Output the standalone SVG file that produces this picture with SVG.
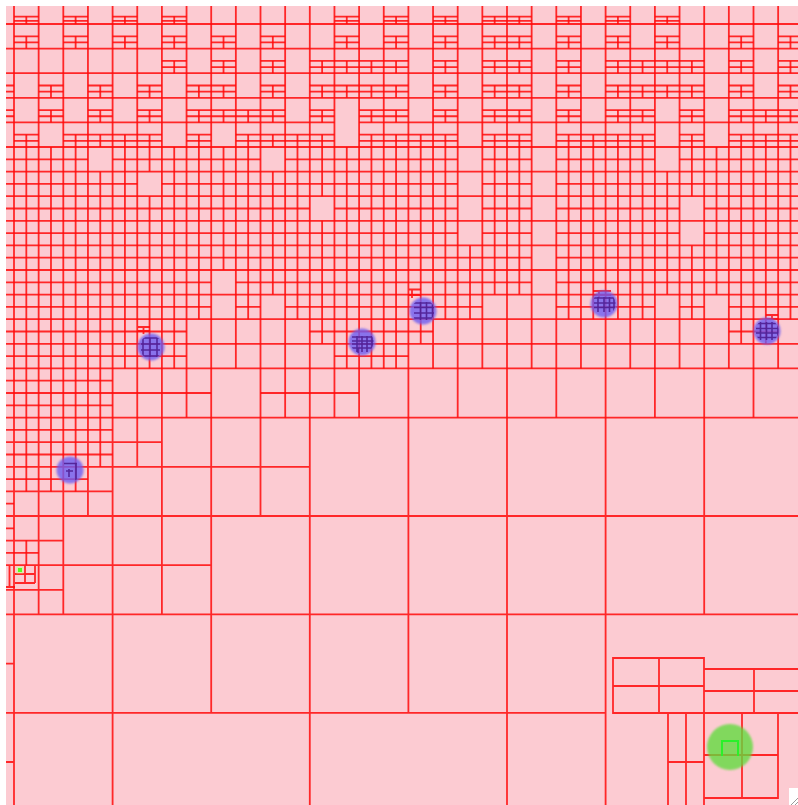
<svg xmlns="http://www.w3.org/2000/svg" width="798" height="805" viewBox="0 0 798 805">
<style>
.bg{fill:#fccbd2}
.ln{fill:none;stroke:#ff0a0a;stroke-opacity:.85;stroke-width:1.8;vector-effect:non-scaling-stroke}
.px{fill:none;stroke:#ff0a0a;stroke-opacity:.85;stroke-width:1.8}
.blue{fill:#6b5cf2;opacity:.8}
.dk{fill:none;stroke:#4a1a8e;stroke-width:1.6;stroke-opacity:.85}
</style>
<defs>
<clipPath id="view"><rect x="6" y="6" width="792" height="799"/></clipPath>
<clipPath id="dots">
<circle cx="151" cy="347" r="11.5"/><circle cx="362" cy="342" r="11.5"/><circle cx="423" cy="311" r="11.5"/>
<circle cx="604" cy="304" r="11.5"/><circle cx="767" cy="331" r="11.5"/><circle cx="70" cy="470" r="11.5"/>
</clipPath>
<filter id="soft" x="-30%" y="-30%" width="160%" height="160%"><feGaussianBlur stdDeviation="1.3"/></filter>
</defs>
<rect class="bg" x="6" y="6" width="792" height="799"/>
<g clip-path="url(#view)">
<g id="quadtree-cells" transform="translate(14 24) scale(24.65 24.6)">
<path class="ln" d="M-1 0H32M-1 1H32M-1 2H32M-1 3H32M-1 4H13M14 4H32M-1 5H32M-1 6H32M-1 7H32M-1 8H32M-1 9H32M-1 10H32M-1 11H32M-1 12H32M-1 13H32M-1 14H32M-1 15H8M10 15H14M-1 16H32"/>
<path class="ln" d="M0 -1V16M1 -1V16M2 -1V16M3 -1V16M4 -1V16M5 -1V16M6 -1V16M7 -1V16M8 -1V16M9 -1V14M10 -1V16M11 -1V16M12 -1V16M13 -1V16M14 -1V16M15 -1V14M16 -1V16M17 -1V14M18 -1V16M19 -1V14M20 -1V16M21 -1V14M22 -1V16M23 -1V14M24 -1V16M25 -1V14M26 -1V16M27 -1V14M28 -1V16M29 -1V14M30 -1V16M31 -1V14"/>
<path class="ln" d="M0 16V33M1 16V24M2 16V24M3 16V20M4 16V33M5 16V18M6 16V24M8 16V28M10 16V20M12 16V33M16 16V28M20 16V33M24 16V33M28 16V24M-1 17H6M-1 18H12M-1 19H4M-1 20H32M-1 21H2M-1 22H8M-1 23H2M-1 24H32M-1 28H24M-1 26H0M-1 30H0"/>
<path class="ln" d="M0 -.3H1M2 -.3H3M4 -.3H5M6 -.3H7M13 -.3H14M15 -.3H16M17 -.3H18M19 -.3H21M22 -.3H23M24 -.3H25M26 -.3H27M0 -.13H1M2 -.13H3M4 -.13H5M6 -.13H7M13 -.13H14M15 -.13H16M17 -.13H18M19 -.13H21M22 -.13H23M24 -.13H25M26 -.13H27M0 .5H1M2 .5H3M4 .5H5M6 .5H7M8 .5H9M10 .5H11M13 .5H14M15 .5H16M17 .5H18M19 .5H21M22 .5H23M24 .5H25M26 .5H27M29 .5H30M31 .5H32M0 .75H1M2 .75H3M4 .75H5M6 .75H7M8 .75H9M10 .75H11M13 .75H14M15 .75H16M17 .75H18M19 .75H21M22 .75H23M24 .75H25M26 .75H27M29 .75H30M31 .75H32M6 1.5H7M8 1.5H9M10 1.5H11M12 1.5H16M17 1.5H18M19 1.5H21M22 1.5H23M24 1.5H28M29 1.5H30M31 1.5H32M6 1.75H7M8 1.75H9M10 1.75H11M12 1.75H16M17 1.75H18M19 1.75H21M22 1.75H23M24 1.75H28M29 1.75H30M31 1.75H32M-1 2.5H0M1 2.5H2M3 2.5H4M5 2.5H6M7 2.5H9M10 2.5H11M12 2.5H16M17 2.5H18M19 2.5H21M22 2.5H23M24 2.5H28M29 2.5H30M31 2.5H32M-1 2.75H0M1 2.75H2M3 2.75H4M5 2.75H6M7 2.75H9M10 2.75H11M12 2.75H16M17 2.75H18M19 2.75H21M22 2.75H23M24 2.75H28M29 2.75H30M31 2.75H32M-1 3.5H0M1 3.5H2M3 3.5H4M5 3.5H6M7 3.5H11M12 3.5H13M14 3.5H16M17 3.5H18M19 3.5H21M22 3.5H23M24 3.5H26M27 3.5H28M29 3.5H32M-1 3.75H0M1 3.75H2M3 3.75H4M5 3.75H6M7 3.75H11M12 3.75H13M14 3.75H16M17 3.75H18M19 3.75H21M22 3.75H23M24 3.75H26M27 3.75H28M29 3.75H32M0 4.5H1M2 4.5H6M7 4.5H8M9 4.5H13M14 4.5H18M19 4.5H21M22 4.5H26M27 4.5H28M29 4.5H32M0 4.75H1M2 4.75H6M7 4.75H8M9 4.75H13M14 4.75H18M19 4.75H21M22 4.75H26M27 4.75H28M29 4.75H32"/>
<path class="ln" d="M.5 -.3V0M2.5 -.3V0M4.5 -.3V0M6.5 -.3V0M13.5 -.3V0M15.5 -.3V0M17.5 -.3V0M19.5 -.3V0M20.5 -.3V0M22.5 -.3V0M24.5 -.3V0M26.5 -.3V0M.5 .5V1M2.5 .5V1M4.5 .5V1M6.5 .5V1M8.5 .5V1M10.5 .5V1M13.5 .5V1M15.5 .5V1M17.5 .5V1M19.5 .5V1M20.5 .5V1M22.5 .5V1M24.5 .5V1M26.5 .5V1M29.5 .5V1M31.5 .5V1M6.5 1.5V2M8.5 1.5V2M10.5 1.5V2M12.5 1.5V2M13.5 1.5V2M14.5 1.5V2M15.5 1.5V2M17.5 1.5V2M19.5 1.5V2M20.5 1.5V2M22.5 1.5V2M24.5 1.5V2M25.5 1.5V2M26.5 1.5V2M27.5 1.5V2M29.5 1.5V2M31.5 1.5V2M-.5 2.5V3M1.5 2.5V3M3.5 2.5V3M5.5 2.5V3M7.5 2.5V3M8.5 2.5V3M10.5 2.5V3M12.5 2.5V3M13.5 2.5V3M14.5 2.5V3M15.5 2.5V3M17.5 2.5V3M19.5 2.5V3M20.5 2.5V3M22.5 2.5V3M24.5 2.5V3M25.5 2.5V3M26.5 2.5V3M27.5 2.5V3M29.5 2.5V3M31.5 2.5V3M-.5 3.5V4M1.5 3.5V4M3.5 3.5V4M5.5 3.5V4M7.5 3.5V4M8.5 3.5V4M9.5 3.5V4M10.5 3.5V4M12.5 3.5V4M14.5 3.5V4M15.5 3.5V4M17.5 3.5V4M19.5 3.5V4M20.5 3.5V4M22.5 3.5V4M24.5 3.5V4M25.5 3.5V4M27.5 3.5V4M29.5 3.5V4M30.5 3.5V4M31.5 3.5V4M.5 4.5V5M2.5 4.5V5M3.5 4.5V5M4.5 4.5V5M5.5 4.5V5M7.5 4.5V5M9.5 4.5V5M10.5 4.5V5M11.5 4.5V5M12.5 4.5V5M14.5 4.5V5M15.5 4.5V5M16.5 4.5V5M17.5 4.5V5M19.5 4.5V5M20.5 4.5V5M22.5 4.5V5M23.5 4.5V5M24.5 4.5V5M25.5 4.5V5M27.5 4.5V5M29.5 4.5V5M30.5 4.5V5M31.5 4.5V5"/>
<path class="ln" d="M-1 5.5H3M4 5.5H10M11 5.5H18M19 5.5H21M22 5.5H26M27 5.5H32M-1 6.5H5M6 6.5H18M19 6.5H21M22 6.5H32M-1 7.5H12M13 7.5H18M19 7.5H21M22 7.5H27M28 7.5H32M-1 8.5H18M19 8.5H21M22 8.5H27M28 8.5H32M-1 9.5H21M22 9.5H32M-1 10.5H8M9 10.5H21M22 10.5H32M-1 11.5H8M9 11.5H10M11 11.5H19M22 11.5H26M27 11.5H28M29 11.5H32M-1 12.5H7M12 12.5H17M29 12.5H31M-1 13.5H7M13 13.5H16M-1 14.5H4M-1 15.5H4M-1 16.5H4M-1 17.5H4M-1 18.5H3M-1 19.5H0M-1 20.5H0M-1 21.5H1"/>
<path class="ln" d="M-.5 5V22M.5 5V19M.5 21V22M1.5 5V19M2.5 5V19M3.5 6V18M4.5 5V14M5.5 5V6M5.5 7V14M6.5 5V14M7.5 5V12M8.5 5V10M9.5 5V12M10.5 6V11M11.5 5V12M12.5 5V7M12.5 8V13M13.5 5V14M14.5 5V14M15.5 5V14M16.5 5V13M17.5 5V12M18.5 9V12M19.5 5V11M20.5 5V11M22.5 5V12M23.5 5V12M24.5 5V12M25.5 5V12M26.5 6V11M27.5 5V7M27.5 9V12M28.5 5V11M29.5 5V13M30.5 5V13M31.5 5V12"/>
</g>
<g id="fine-cells">
<path class="px" d="M25 566V583M35 566V583M15 574H35M15 583H35M9.5 566V587M6 587H15"/>
<path class="px" d="M138 327H150M138 331H150M143.5 327V334M409 289.5H421M409 295H421M412 289.5V298M593 291H611M593 295H611M599 291V298M766 315H778M766 319H778M772 315V320"/>
</g>
<g id="region-lower-right">
<path class="px" d="M613 658H704V713H613ZM659 658V713M613 686H704M704 669H800M704 691H800M754 669V713M613 713H800M668 713V805M686 713V805M668 762H704M704 713V805M778 713V798H704M742 713V798M704 755H778"/>
</g>
<g id="query-points">
<g filter="url(#soft)">
<circle class="blue" cx="151" cy="347" r="13.5"/>
<circle class="blue" cx="362" cy="342" r="13.5"/>
<circle class="blue" cx="423" cy="311" r="13.5"/>
<circle class="blue" cx="604" cy="304" r="13.5"/>
<circle class="blue" cx="767" cy="331" r="13.5"/>
<circle class="blue" cx="70" cy="470" r="13.5"/>
</g>
<path class="dk" clip-path="url(#dots)" d="M143 338V357M150 338V357M157 338V357M141 338H160M141 344H160M141 350H160M141 356H160M357 336V352M362 336V352M367 336V352M372 336V352M352 337H374M352 341H374M352 344H374M352 348H374M358 348V354M420.5 302V320M426.5 302V320M432.5 302V320M414 303H434M414 307.5H434M414 313H434M414 318H434M598 297V312M604 297V312M609.5 297V312M614 297V312M594 298H616M594 303H616M594 307.5H616M760.5 322V340M766.5 322V340M772 322V340M778 322V340M756 323.5H780M756 328.5H780M756 333H780M756 337.5H780M64 463.5H77M76 463V480M66 471H73M69 469V477"/>
</g>
<g id="target-point">
<circle cx="730" cy="747" r="23" fill="#5fdc3c" opacity=".78" filter="url(#soft)"/>
<path d="M722 756V741H738V756" fill="none" stroke="#2af02a" stroke-width="2"/>
<rect x="16.5" y="566.5" width="7" height="7" fill="#c8ff99" opacity=".6"/>
<rect x="18" y="568" width="4" height="4" fill="#55ff22"/>
</g>
</g>
<g id="corner">
<rect x="789" y="788" width="9" height="17" fill="#ffffff"/>
<path d="M791 805L798 798M795 805L798 802" stroke="#9a9a9a" stroke-width="1"/>
</g>
</svg>
